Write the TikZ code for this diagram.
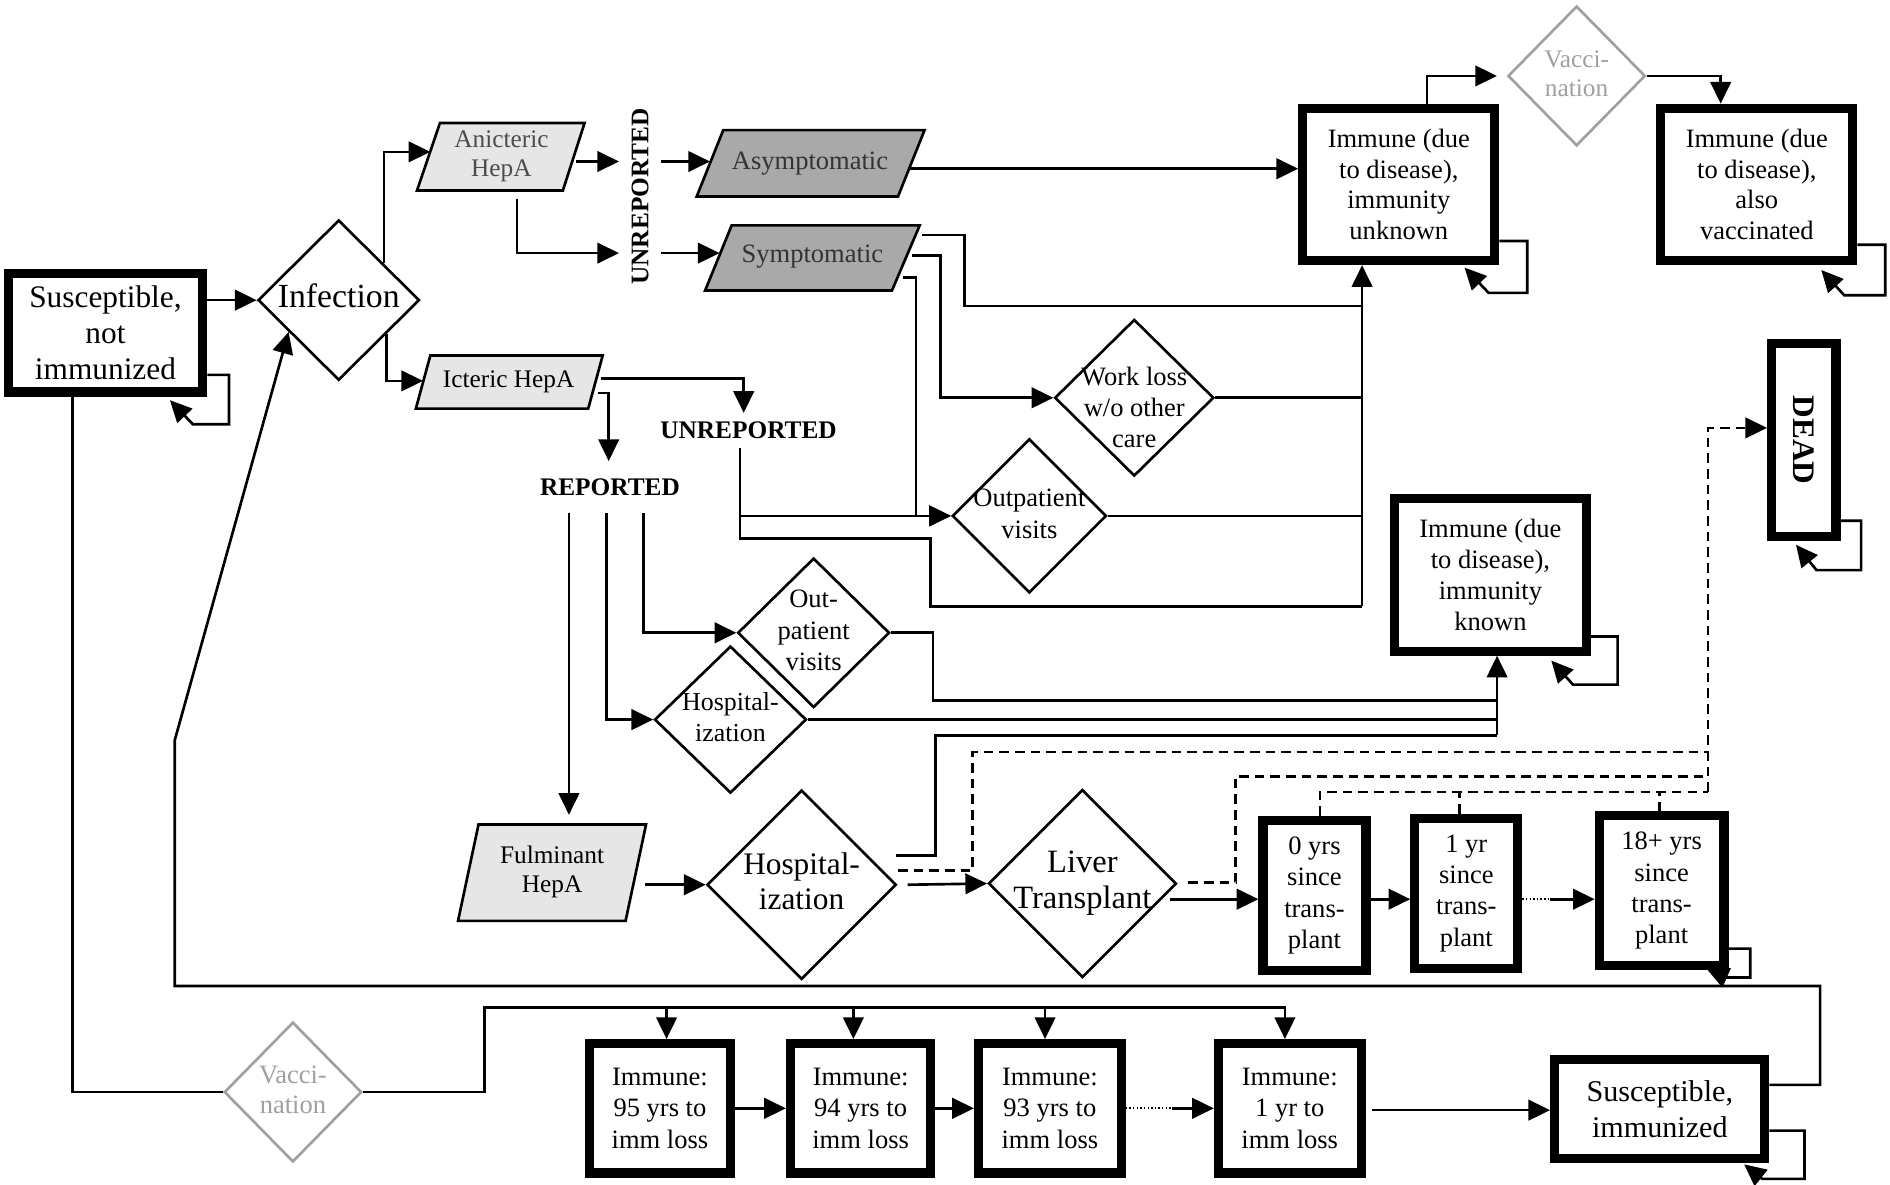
\documentclass[tikz,border=0pt]{standalone}
\usepackage{fontspec}
\setmainfont{Liberation Serif}
\usetikzlibrary{arrows.meta,shapes.geometric,calc}
\definecolor{lfill}{HTML}{E6E6E6}
\definecolor{dfill}{HTML}{A9A9A9}
\definecolor{vgray}{HTML}{A0A0A0}
\newcommand{\fs}[2]{\fontsize{#1}{#2}\selectfont}
\newcommand{\zt}[1]{\makebox[0pt]{\begin{tabular}{@{}c@{}}#1\end{tabular}}}
\begin{document}
\begin{tikzpicture}[x=0.5pt,y=-0.5pt,
 ln/.style={line width=1.1pt},
 arr/.style={ln,-{Triangle[length=9pt,width=8.5pt]}},
 dsh/.style={ln,dash pattern=on 4pt off 2.5pt},
 dotl/.style={line width=0.8pt,dash pattern=on 0.6pt off 0.9pt},
 tbox/.style={draw,line width=3.8pt,inner sep=0pt,align=center},
 dia/.style={draw,diamond,line width=1.1pt,inner sep=0pt},
 vdia/.style={dia,draw=vgray,text=vgray},
 plg/.style={draw,line width=1.1pt},
 lbl/.style={font=\bfseries\fs{10.5}{12}},
]
\fill[white] (0,0) rectangle (1568,983);
\useasboundingbox (0,0) rectangle (1568,983);

% ---------- thick boxes ----------
\node[tbox,minimum width=80.7pt,minimum height=49.2pt,font=\fs{13}{15}] (sus) at (87.5,276) {Susceptible,\\not\\immunized};
\node[tbox,minimum width=79.7pt,minimum height=63.2pt,font=\fs{11}{12.8}] (iu) at (1160.5,153) {Immune (due\\to disease),\\immunity\\unknown};
\node[tbox,minimum width=79.7pt,minimum height=63.2pt,font=\fs{11}{12.8}] (iv) at (1457.5,153) {Immune (due\\to disease),\\also\\vaccinated};
\node[tbox,minimum width=80.2pt,minimum height=26.7pt,font=\bfseries\fs{13}{15},rotate=-90] (dead) at (1496.5,365) {DEAD};
\node[tbox,minimum width=79.7pt,minimum height=63.2pt,font=\fs{11}{12.8}] (ik) at (1236.5,477) {Immune (due\\to disease),\\immunity\\known};
\node[tbox,minimum width=42.7pt,minimum height=62.2pt,font=\fs{11}{13}] (t0) at (1090.5,743) {0 yrs\\since\\trans-\\plant};
\node[tbox,minimum width=42.7pt,minimum height=62.2pt,font=\fs{11}{13}] (t1) at (1216.5,741) {1 yr\\since\\trans-\\plant};
\node[tbox,minimum width=51.7pt,minimum height=62.2pt,font=\fs{11}{13}] (t18) at (1378.5,739) {18+ yrs\\since\\trans-\\plant};
\node[tbox,minimum width=58.7pt,minimum height=53.7pt,font=\fs{11}{13}] (m95) at (547.5,919.5) {Immune:\\95 yrs to\\imm loss};
\node[tbox,minimum width=58.2pt,minimum height=53.7pt,font=\fs{11}{13}] (m94) at (714,919.5) {Immune:\\94 yrs to\\imm loss};
\node[tbox,minimum width=59.2pt,minimum height=53.7pt,font=\fs{11}{13}] (m93) at (871,919.5) {Immune:\\93 yrs to\\imm loss};
\node[tbox,minimum width=59.2pt,minimum height=53.7pt,font=\fs{11}{13}] (m1) at (1070,919.5) {Immune:\\1 yr to\\imm loss};
\node[tbox,minimum width=87.2pt,minimum height=41.2pt,font=\fs{12.5}{15}] (si) at (1377,920) {Susceptible,\\immunized};

% ---------- diamonds ----------
\node[dia,minimum width=67pt,minimum height=66.5pt,font=\fs{14}{16}] (inf) at (281,249) {\zt{Infection}};
\node[vdia,minimum width=57pt,minimum height=58pt,font=\fs{10.5}{12}] (vt) at (1308,63) {\zt{Vacci-\\nation}};
\node[dia,minimum width=66pt,minimum height=65pt,
      label={[font=\fs{11}{13},align=center,yshift=-4pt,inner sep=0pt]center:{Work loss\\w/o other\\care}}] (wl) at (941,330) {};
\node[dia,minimum width=64pt,minimum height=64pt,font=\fs{11}{13.5}] (op) at (854,428) {\zt{Outpatient\\visits}};
\node[dia,minimum width=63pt,minimum height=62pt,font=\fs{11}{13}] (op2) at (675,525) {\zt{Out-\\patient\\visits}};
\node[dia,minimum width=63pt,minimum height=61pt,font=\fs{10.75}{13}] (hs) at (606,597) {\zt{Hospital-\\ization}};
\node[dia,minimum width=78.5pt,minimum height=78.5pt,font=\fs{13}{14.5}] (hb) at (665,734) {\zt{Hospital-\\ization}};
\node[dia,minimum width=78pt,minimum height=78pt,font=\fs{13.5}{15}] (lt) at (898,733) {\zt{Liver\\Transplant}};
\node[vdia,minimum width=57pt,minimum height=58pt,font=\fs{11}{12.5}] (vb) at (243,906) {\zt{Vacci-\\nation}};

% ---------- parallelograms ----------
\filldraw[plg,fill=lfill] (365,102) -- (485,102) -- (467,158) -- (346,158) -- cycle;
\node[font=\fs{10.5}{12},text=black!70,align=center] (an) at (416,130) {Anicteric\\HepA};
\filldraw[plg,fill=lfill] (357,295) -- (500,295) -- (488,339) -- (345,339) -- cycle;
\node[font=\fs{10.5}{12}] (ic) at (422,317) {Icteric HepA};
\filldraw[plg,fill=dfill] (600,108) -- (767,108) -- (745,163) -- (578,163) -- cycle;
\node[font=\fs{11}{13},text=black!80] (as) at (672,136) {Asymptomatic};
\filldraw[plg,fill=dfill] (607,187) -- (763,187) -- (740,241) -- (585,241) -- cycle;
\node[font=\fs{11}{13},text=black!80] (sy) at (674,213) {Symptomatic};
\filldraw[plg,fill=lfill] (397,684) -- (536,684) -- (519,764) -- (380,764) -- cycle;
\node[font=\fs{10.5}{12},align=center] (fu) at (458,723) {Fulminant\\HepA};

% ---------- labels ----------
\node[lbl,rotate=90,inner xsep=0pt,inner ysep=5pt] (ur1) at (531,163) {UNREPORTED};
\node[lbl,inner xsep=0pt,inner ysep=3.5pt] (ur2) at (621,357) {UNREPORTED};
\node[lbl,inner xsep=0pt,inner ysep=7pt] (rep) at (506,404) {REPORTED};

% ---------- helper coordinates ----------
\coordinate (anW) at (357,126);
\coordinate (icW) at (351,316);
\coordinate (tr) at (1130,503);
\coordinate (tk) at (1242,610);
\coordinate (dd) at (1417,355);

% ---------- connectors ----------
\draw[arr] (sus.east |- inf.west) -- (inf.west);
\draw[arr] ($(inf.north)!0.55!(inf.east)$) |- (anW);
\draw[arr] ($(inf.south)!0.58!(inf.east)$) |- (icW);

\draw[arr] (478,134) -- (ur1.north |- 478,134);
\draw[arr] (429,165) |- (ur1.north |- 429,210);
\draw[arr] (ur1.south |- 0,134) -- (589,134);
\draw[arr] (ur1.south |- 0,210) -- (597,210);

\draw[arr] (755,140) -- (iu.west |- 0,140);
\draw[arr] (tr) -- (tr |- iu.south);
\draw[ln] (765,195) -- (800,195) |- (tr |- 0,254);
\draw[arr] (757,212) -- (780,212) |- (wl.west);
\draw[arr] (749,230) -- (760,230) |- (op.west);
\draw[ln] (wl.east) -- (tr |- wl.east);
\draw[ln] (op.east) -- (tr |- op.east);

\draw[arr] (499,314) -| (ur2.north -| 617,0);
\draw[arr] (496,326) -| (rep.north -| 505,0);
\draw[arr] (ur2.south -| 614,0) |- (op.west);
\draw[ln] (614,428) -- (614,447) -- (772,447) |- (tr);

\draw[arr] (rep.south -| 534,0) |- (op2.west);
\draw[arr] (rep.south -| 503,0) |- (hs.west);
\draw[arr] (rep.south -| 472,0) -- (472,676);

\draw[arr] (tk) -- (tk |- ik.south);
\draw[ln] (op2.east) -- (774,525) |- (tk |- 0,581);
\draw[ln] (hs.east) -- (tk |- hs.east);
\draw[ln] (743,710) -- (776,710) |- (tk);

\draw[arr] (535,734) -- (hb.west);
\draw[arr] (753,734) -- (lt.west);

\draw[dsh] (745,722) -- (807,722) -- (807,624) -- (dd |- 0,624);
\draw[dsh] (986,732) -- (1025,732) -- (1025,644) -- (dd |- 0,644);
\draw[dsh] (t0.north -| 1095,0) |- (dd |- 0,657);
\draw[dsh] (t1.north -| 1211,0) -- (1211,657);
\draw[dsh] (t18.north -| 1377,0) -- (1377,657);
\draw[dsh,-{Triangle[length=9pt,width=8.5pt]}] (dd |- 0,657) -- (dd) -- (dead.south |- dd);

\draw[arr] (971,746) -- (t0.west |- 0,746);
\draw[arr] (t0.east |- 0,746) -- (t1.west |- 0,746);
\draw[dotl] (t1.east |- 0,746) -- (1286,746);
\draw[arr] (1286,746) -- (t18.west |- 0,746);

\draw[arr] (si.east |- 0,900) -- (1510,900) -- (1510,818) -- (145,818) -- (145,614) -- ($(inf.west)!0.39!(inf.south)$);

\draw[ln] (sus.south -| 60,0) |- (vb.west);
\draw[ln] (vb.east) -| (402,836) -- (1067,836);
\draw[arr] (553,836) -- (553,836 |- m95.north);
\draw[arr] (708,836) -- (708,836 |- m94.north);
\draw[arr] (867,836) -- (867,836 |- m93.north);
\draw[arr] (1066,836) -- (1066,836 |- m1.north);
\draw[arr] (m95.east) -- (m94.west);
\draw[arr] (m94.east) -- (m93.west);
\draw[dotl] (m93.east) -- (972,919.5);
\draw[arr] (972,919.5) -- (m1.west);
\draw[arr] (1138,921) -- (si.west |- 0,921);

\draw[arr] ([xshift=11.75pt]iu.north) |- ([xshift=-4pt]vt.west);
\draw[arr] (vt.east) -| ([xshift=-15pt]iv.north);

% ---------- self loops ----------
\draw[arr] ($(sus.south east)+(0,-18)$) -- ++(18,0) -- ++(0,41) -- ++(-30,0) -- ++(-19,-20);
\draw[arr] ($(iu.south east)+(0,-20)$) -- ++(23,0) -- ++(0,43) -- ++(-32,0) -- ++(-20,-21);
\draw[arr] ($(iv.south east)+(0,-17)$) -- ++(23,0) -- ++(0,42) -- ++(-34,0) -- ++(-19,-21);
\draw[arr] (dead.north west |- 0,432) -- ++(17,0) -- ++(0,41) -- ++(-37,0) -- ++(-17,-21);
\draw[arr] ($(ik.south east)+(0,-16)$) -- ++(22,0) -- ++(0,40) -- ++(-37,0) -- ++(-18,-20);
\draw[arr] ($(t18.south east)+(0,-18)$) -- ++(18,0) -- ++(0,24) -- ++(-20,0) -- ++(-16,-7);
\draw[arr] ($(si.south east)+(0,-27)$) -- ++(29,0) -- ++(0,40) -- ++(-35,0) -- ++(-15,-12);
\end{tikzpicture}
\end{document}
